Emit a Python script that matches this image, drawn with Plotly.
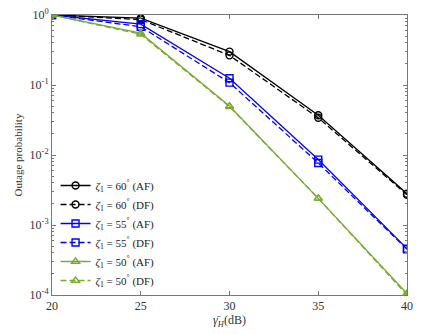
import plotly.graph_objects as go

# SNR points (dB)
snr = [20, 25, 30, 35, 40]

# outage probability
p60_af = [1.0, 0.90, 0.30, 0.037, 2.8e-3]
p60_df = [1.0, 0.86, 0.265, 0.034, 2.7e-3]
p55_af = [1.0, 0.74, 0.125, 0.0086, 4.6e-4]
p55_df = [1.0, 0.68, 0.108, 0.0077, 4.5e-4]
p50_af = [1.0, 0.55, 0.050, 2.4e-3, 1.05e-4]
p50_df = [1.0, 0.53, 0.049, 2.4e-3, 1.0e-4]

names = ['<i>ζ</i><sub>1</sub> = 60<sup>°</sup> (AF)', '<i>ζ</i><sub>1</sub> = 60<sup>°</sup> (DF)',
         '<i>ζ</i><sub>1</sub> = 55<sup>°</sup> (AF)', '<i>ζ</i><sub>1</sub> = 55<sup>°</sup> (DF)',
         '<i>ζ</i><sub>1</sub> = 50<sup>°</sup> (AF)', '<i>ζ</i><sub>1</sub> = 50<sup>°</sup> (DF)']

ytick_vals = [1, 1e-1, 1e-2, 1e-3, 1e-4]
ytick_text = ['10<sup>0</sup>', '10<sup>-1</sup>', '10<sup>-2</sup>', '10<sup>-3</sup>', '10<sup>-4</sup>']

green = '#77ac30'
series = [
  (p60_af, 'black', 'solid', 'circle-open'),
  (p60_df, 'black', '6px,3px', 'circle-open'),
  (p55_af, 'blue', 'solid', 'square-open'),
  (p55_df, 'blue', '6px,3px', 'square-open'),
  (p50_af, green, 'solid', 'triangle-up-open'),
  (p50_df, green, '6px,3px', 'triangle-up-open'),
]

fig = go.Figure()
for (vals, col, dash, sym), nm in zip(series, names):
  fig.add_trace(go.Scatter(x=snr, y=vals, name=nm, mode='lines+markers',
                           line=dict(color=col, width=1.3, dash=dash),
                           marker=dict(symbol=sym, size=7, color=col,
                                       line=dict(color=col, width=1.4))))

axcol = '#777777'
# page body adds 8px, so the figure is a bit smaller than the window
fig.update_layout(
  width=415, height=326,
  margin=dict(l=44, r=16, t=7, b=39),
  paper_bgcolor='white', plot_bgcolor='white',
  font=dict(family='Liberation Serif', size=12, color='#333333'),
  showlegend=True,
  legend=dict(x=0.01, y=0.0, xanchor='left', yanchor='bottom',
              bgcolor='rgba(255,255,255,0)', font=dict(size=11, color='#222222'),
              tracegroupgap=0),
)
fig.update_xaxes(range=[20, 40], tickvals=snr, ticks='inside', ticklen=4,
                 showline=True, linecolor=axcol, linewidth=1, mirror='ticks',
                 tickcolor=axcol, showgrid=False, zeroline=False, automargin=False,
                 ticklabeloverflow='allow',
                 title=dict(text='<i>γ̄</i><sub><i>H</i></sub>(dB)', standoff=3,
                            font=dict(size=12)))
fig.update_yaxes(type='log', range=[-4, 0], tickmode='array', tickvals=ytick_vals,
                 ticktext=ytick_text, automargin=False, ticklabeloverflow='allow',
                 ticks='inside', ticklen=4, showline=True, linecolor=axcol,
                 linewidth=1, mirror='ticks', tickcolor=axcol, showgrid=False,
                 minor=dict(dtick='D1', ticks='inside', ticklen=2, tickcolor=axcol,
                            showgrid=False),
                 title=dict(text='Outage probability', standoff=4, font=dict(size=11)))

fig.write_html("out.html")
